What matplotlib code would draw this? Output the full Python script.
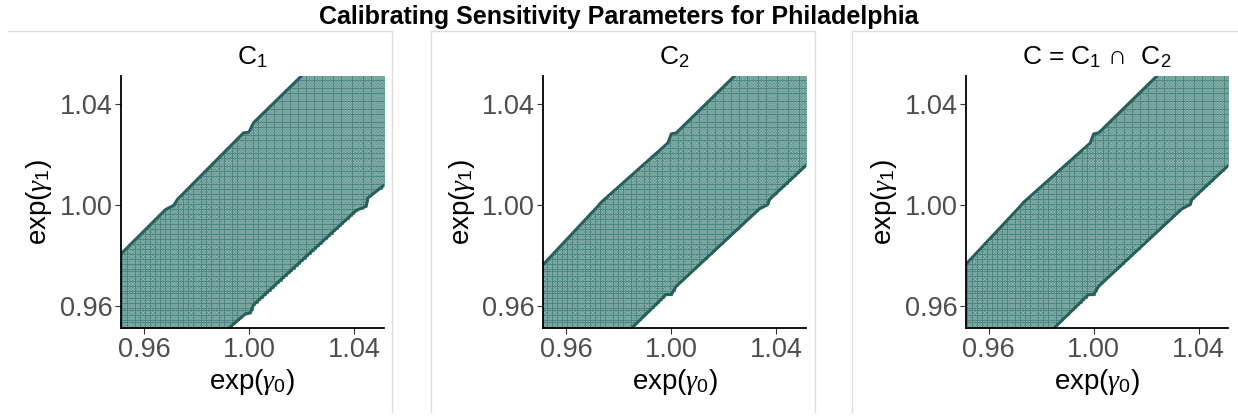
import numpy as np
import matplotlib
matplotlib.use("Agg")
import matplotlib.pyplot as plt
from matplotlib.lines import Line2D

plt.rcParams["font.family"] = ["Liberation Sans", "DejaVu Sans"]
plt.rcParams["mathtext.fontset"] = "custom"
plt.rcParams["mathtext.rm"] = "Liberation Sans"
plt.rcParams["mathtext.it"] = "Liberation Serif:italic"
plt.rcParams["mathtext.sf"] = "Liberation Sans"

# ── Data ──────────────────────────────────────────────────────────────
# sensitivity grid: gamma in [-0.05, 0.05] by 0.001, plotted on exp scale
gamma_grid = np.round(np.arange(-0.05, 0.05005, 0.001), 3)

# boundary of region C1, exp scale
c1_upper_x = [0.9512, 0.9682, 0.9714, 0.9727, 0.9979, 1.0000, 1.0017, 1.0200]
c1_upper_y = [0.9807, 0.9983, 1.0000, 1.0023, 1.0287, 1.0290, 1.0327, 1.0513]
c1_lower_x = [0.9922, 0.9986, 1.0005, 1.0017, 1.0409, 1.0447, 1.0453, 1.0513]
c1_lower_y = [0.9512, 0.9569, 0.9573, 0.9605, 0.9980, 0.9996, 1.0029, 1.0078]

# boundary of region C2
c2_upper_x = [0.9512, 0.9720, 0.9733, 0.9987, 1.0000, 1.0019, 1.0241]
c2_upper_y = [0.9765, 0.9996, 1.0012, 1.0247, 1.0283, 1.0287, 1.0513]
c2_lower_x = [0.9848, 0.9980, 1.0000, 1.0019, 1.0336, 1.0368, 1.0374, 1.0513]
c2_lower_y = [0.9512, 0.9646, 0.9646, 0.9679, 0.9986, 1.0003, 1.0023, 1.0158]

ticks = [0.96, 1.00, 1.04]
tick_labels = ["0.96", "1.00", "1.04"]
titles = [r"$\mathrm{C}_1$", r"$\mathrm{C}_2$",
          r"$\mathrm{C}\,=\,\mathrm{C}_1\,\cap\;\;\mathrm{C}_2$"]

# ── Regions on the grid ───────────────────────────────────────────────
g0, g1 = np.meshgrid(np.exp(gamma_grid), np.exp(gamma_grid))
x_all, y_all = g0.ravel(), g1.ravel()

def inside(ux, uy, lx, ly):
    up = np.interp(x_all, ux, uy, left=-1, right=2)
    lo = np.interp(x_all, lx, ly, left=-1, right=2)
    return (y_all <= up + 1e-9) & (y_all >= lo - 1e-9)

in_c1 = inside(c1_upper_x, c1_upper_y, c1_lower_x, c1_lower_y)
in_c2 = inside(c2_upper_x, c2_upper_y, c2_lower_x, c2_lower_y)
masks = [in_c1, in_c2, in_c1 & in_c2]
edges = [
    [(c1_upper_x, c1_upper_y), (c1_lower_x, c1_lower_y)],
    [(c2_upper_x, c2_upper_y), (c2_lower_x, c2_lower_y)],
    [(c2_upper_x, c2_upper_y), (c2_lower_x, c2_lower_y)],
]

# ── Chart ─────────────────────────────────────────────────────────────
W, H = 1238, 416
fig = plt.figure(figsize=(W / 100, H / 100), dpi=100)
fig.patch.set_facecolor("white")

# light panel frames (panel 1 has no visible left edge)
frame_col = "#dedede"
top = 1 - 31 / H
for x0, x1, draw_left in [(8, 392, False), (431, 815, True), (852, 1250, True)]:
    fig.add_artist(Line2D([x0 / W, x1 / W], [top, top], color=frame_col,
                          linewidth=1.0, transform=fig.transFigure))
    fig.add_artist(Line2D([x1 / W, x1 / W], [top, 0.01], color=frame_col,
                          linewidth=1.0, transform=fig.transFigure))
    if draw_left:
        fig.add_artist(Line2D([x0 / W, x0 / W], [top, 0.01], color=frame_col,
                              linewidth=1.0, transform=fig.transFigure))

fig.text(0.5, 1 - 17 / H, "Calibrating Sensitivity Parameters for Philadelphia",
         ha="center", va="center", fontsize=18, fontweight="bold")

ax_lefts = [121, 543.3, 965.7]
lim = (np.exp(-0.05), np.exp(0.05))
for i, left in enumerate(ax_lefts):
    ax = fig.add_axes([left / W, (H - 328.3) / H, 262.5 / W, 252.3 / H])
    m = masks[i]
    ax.scatter(x_all[m], y_all[m], marker="s", s=4.4,
               facecolor="#82bab2", edgecolor="#2b6a64", linewidths=0.4,
               zorder=2)
    for ex, ey in edges[i]:
        ax.plot(ex, ey, color="#285f5a", linewidth=2.2,
                solid_capstyle="round", zorder=3)
    ax.set_xlim(lim)
    ax.set_ylim(lim)
    ax.set_xticks(ticks)
    ax.set_xticklabels(tick_labels)
    ax.set_yticks(ticks)
    ax.set_yticklabels(tick_labels)
    ax.tick_params(labelsize=19.5, labelcolor="#4d4d4d", color="#333333",
                   length=4, width=0.8, pad=2)
    for s in ["top", "right"]:
        ax.spines[s].set_visible(False)
    for s in ["left", "bottom"]:
        ax.spines[s].set_linewidth(1.3)
        ax.spines[s].set_zorder(4)
    ax.set_xlabel(r"exp($\gamma_0$)", fontsize=20, labelpad=3)
    ax.set_ylabel(r"exp($\gamma_1$)", fontsize=20, labelpad=4)
    ax.set_title(titles[i], fontsize=19, pad=8)

plt.savefig("out.png", dpi=100)
plt.close()
